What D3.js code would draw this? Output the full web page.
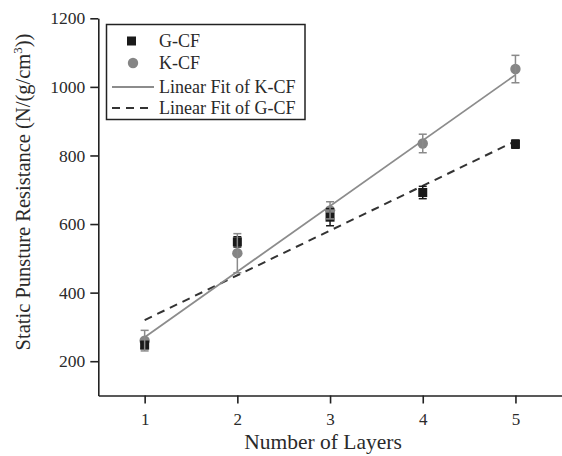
<!doctype html>
<html>
<head>
    <meta charset="UTF-8">
    <title>Static puncture resistance</title>
    <script src="https://d3js.org/d3.v7.min.js"></script>
    <style>
        body { margin: 0; background: #fff; overflow: hidden; }
        text { font-family: "Liberation Serif", "Times New Roman", serif; fill: #2a2a2a; }
    </style>
</head>
<body>
    <script>
        // data
        var layers = [1, 2, 3, 4, 5];
        var gcf = [247, 548, 620, 692, 833];
        var gcfErr = [10, 15, 25, 18, 12];
        var kcf = [260, 515, 640, 835, 1052];
        var kcfErr = [30, 57, 25, 27, 40];
        // linear fits, value at layer 1 and layer 5
        var kcfFit = [270, 1035];
        var gcfFit = [320, 842];
        var xTicks = [1, 2, 3, 4, 5];
        var yTicks = [200, 400, 600, 800, 1000, 1200];
        var legendNames = ["G-CF", "K-CF", "Linear Fit of K-CF", "Linear Fit of G-CF"];

        var w = 562, h = 456;

        var svg = d3.select("body").append("svg")
            .attr("width", w)
            .attr("height", h)
            .style("display", "block");

        var x = d3.scaleLinear().domain([0.5, 5.5]).range([98.3, 561.8]);
        var y = d3.scaleLinear().domain([100, 1200]).range([395.5, 18.3]);

        var axisColor = "#222";

        // x axis ------------------------------
        var gx = svg.append("g").attr("transform", "translate(0," + y(100) + ")");
        gx.call(d3.axisBottom(x).tickValues([0.5, 1.5, 2.5, 3.5, 4.5, 5.5]).tickSize(5).tickFormat(""));
        gx.call(d3.axisBottom(x).tickValues(xTicks).tickSize(8).tickSizeOuter(0).tickPadding(9).tickFormat(d3.format("d")));
        gx.selectAll("path, line").attr("stroke", axisColor).attr("stroke-width", 1.6);
        gx.selectAll("text").attr("font-size", 17).attr("fill", "#333");

        // y axis ------------------------------
        var gy = svg.append("g").attr("transform", "translate(" + x(0.5) + ",0)");
        gy.call(d3.axisLeft(y).tickValues([100, 300, 500, 700, 900, 1100]).tickSize(5).tickFormat(""));
        gy.call(d3.axisLeft(y).tickValues(yTicks).tickSize(8).tickSizeOuter(0).tickPadding(5).tickFormat(d3.format("d")));
        gy.selectAll("path, line").attr("stroke", axisColor).attr("stroke-width", 1.6);
        gy.selectAll("text").attr("font-size", 17.5).attr("fill", "#333");

        // axis titles
        svg.append("text")
            .attr("x", 323).attr("y", 449)
            .attr("text-anchor", "middle")
            .attr("font-size", 21.5)
            .text("Number of Layers");

        var yt = svg.append("text")
            .attr("transform", "translate(30,192) rotate(-90)")
            .attr("text-anchor", "middle")
            .attr("font-size", 20.5);
        yt.append("tspan").text("Static Punsture Resistance (N/(g/cm");
        yt.append("tspan").attr("dy", -8).attr("font-size", 13).text("3");
        yt.append("tspan").attr("dy", 8).text("))");

        // fit lines ---------------------------
        var fitLine = d3.line()
            .x(function(d, i){ return x(i == 0 ? 1 : 5); })
            .y(function(d){ return y(d); });

        svg.append("path").datum(gcfFit)
            .attr("d", fitLine)
            .attr("fill", "none")
            .attr("stroke", "#333")
            .attr("stroke-width", 2)
            .attr("stroke-dasharray", "8,6");

        svg.append("path").datum(kcfFit)
            .attr("d", fitLine)
            .attr("fill", "none")
            .attr("stroke", "#8c8c8c")
            .attr("stroke-width", 1.8);

        // markers -----------------------------
        svg.selectAll("circle.k").data(layers).enter()
            .append("circle").attr("class", "k")
            .attr("cx", function(d){ return x(d); })
            .attr("cy", function(d, i){ return y(kcf[i]); })
            .attr("r", 5.2)
            .attr("fill", "#858585");

        svg.selectAll("rect.g").data(layers).enter()
            .append("rect").attr("class", "g")
            .attr("x", function(d){ return x(d) - 4.5; })
            .attr("y", function(d, i){ return y(gcf[i]) - 4.5; })
            .attr("width", 9).attr("height", 9)
            .attr("fill", "#1a1a1a");

        // error bars --------------------------
        function errBars(cls, vals, errs, color){
            var g = svg.selectAll("g." + cls).data(layers).enter()
                .append("g").attr("class", cls)
                .attr("stroke", color).attr("stroke-width", 1.5);
            g.append("line")
                .attr("x1", function(d){ return x(d); })
                .attr("x2", function(d){ return x(d); })
                .attr("y1", function(d, i){ return y(vals[i] + errs[i]); })
                .attr("y2", function(d, i){ return y(vals[i] - errs[i]); });
            [1, -1].forEach(function(s){
                g.append("line")
                    .attr("x1", function(d){ return x(d) - 4; })
                    .attr("x2", function(d){ return x(d) + 4; })
                    .attr("y1", function(d, i){ return y(vals[i] + s * errs[i]); })
                    .attr("y2", function(d, i){ return y(vals[i] + s * errs[i]); });
            });
        }
        errBars("ge", gcf, gcfErr, "#1a1a1a");
        errBars("ke", kcf, kcfErr, "#8a8a8a");

        // legend ------------------------------
        var lg = svg.append("g");
        lg.append("rect")
            .attr("x", 106.5).attr("y", 24.5)
            .attr("width", 198.5).attr("height", 95)
            .attr("fill", "#fff")
            .attr("stroke", "#222").attr("stroke-width", 1.5);

        var rowY = [41, 63, 87, 108];
        lg.append("rect").attr("x", 127).attr("y", rowY[0] - 4.5).attr("width", 9).attr("height", 9).attr("fill", "#1a1a1a");
        lg.append("circle").attr("cx", 133).attr("cy", rowY[1]).attr("r", 5.2).attr("fill", "#858585");
        lg.append("line").attr("x1", 112).attr("x2", 154).attr("y1", rowY[2]).attr("y2", rowY[2])
            .attr("stroke", "#8c8c8c").attr("stroke-width", 1.8);
        lg.append("line").attr("x1", 112).attr("x2", 154).attr("y1", rowY[3]).attr("y2", rowY[3])
            .attr("stroke", "#333").attr("stroke-width", 2).attr("stroke-dasharray", "8,6");

        lg.selectAll("text").data(legendNames).enter()
            .append("text")
            .attr("x", 159)
            .attr("y", function(d, i){ return rowY[i] + 6; })
            .attr("font-size", 18)
            .text(function(d){ return d; });
    </script>
</body>
</html>
